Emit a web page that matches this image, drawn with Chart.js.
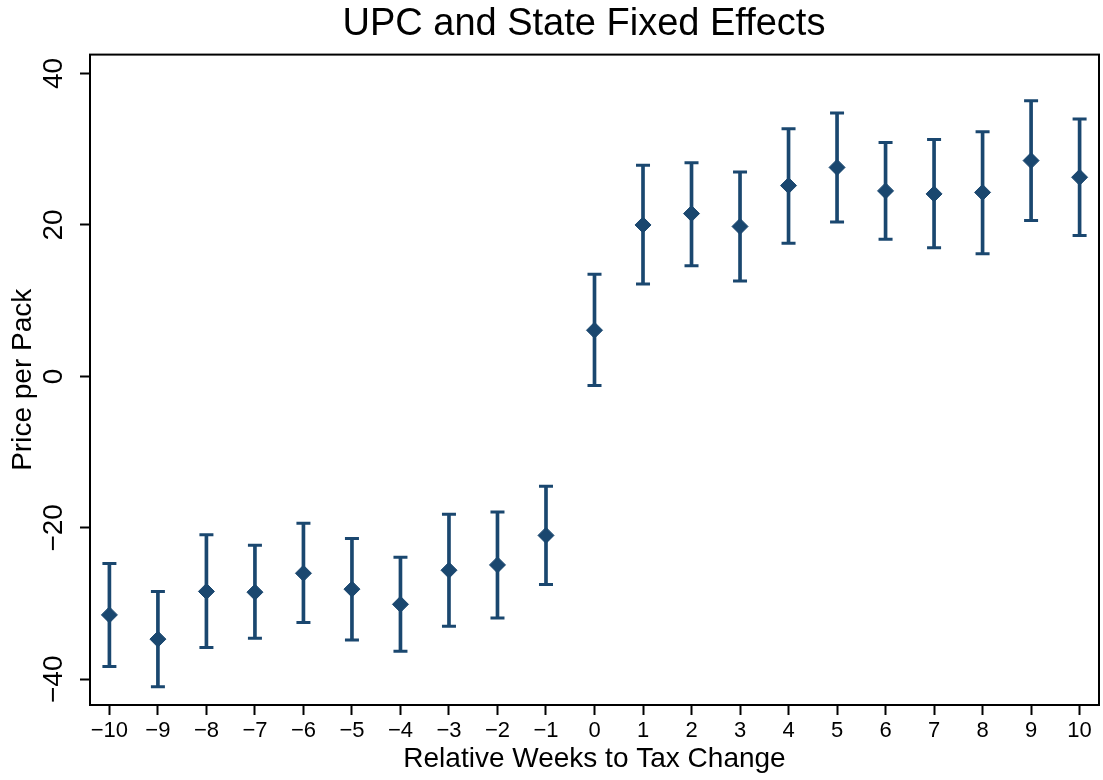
<!DOCTYPE html>
<html>
<head>
<meta charset="utf-8">
<title>UPC and State Fixed Effects</title>
<script src="https://cdn.jsdelivr.net/npm/chart.js@4.4.1/dist/chart.umd.min.js"></script>
<style>
    html, body { margin: 0; padding: 0; background: #ffffff; }
    #wrap { width: 1103px; height: 780px; }
</style>
</head>
<body>
<div id="wrap">
    <canvas id="eventChart" width="1103" height="780"></canvas>
</div>

<script>
// weeks relative to the tax change
const weeks = [-10, -9, -8, -7, -6, -5, -4, -3, -2, -1, 0, 1, 2, 3, 4, 5, 6, 7, 8, 9, 10];

// point estimates (price per pack)
const coef = [-31.5, -34.7, -28.4, -28.5, -26.0, -28.1, -30.1, -25.6, -24.9, -21.0,
              6.1, 20.0, 21.5, 19.8, 25.2, 27.6, 24.5, 24.1, 24.3, 28.5, 26.3];

// confidence interval bounds
const lower = [-38.3, -41.0, -35.8, -34.6, -32.5, -34.8, -36.3, -33.0, -31.9, -27.5,
               -1.2, 12.2, 14.6, 12.6, 17.6, 20.4, 18.1, 17.0, 16.2, 20.6, 18.6];
const upper = [-24.7, -28.4, -20.9, -22.3, -19.4, -21.4, -23.9, -18.2, -17.9, -14.5,
               13.5, 27.9, 28.2, 27.0, 32.7, 34.8, 30.9, 31.3, 32.3, 36.4, 34.0];

const yTicks = [-40, -20, 0, 20, 40];

const navy = "#1a476f";
const fontFamily = "'Liberation Sans', Arial, Helvetica, sans-serif";

// Stata style minus sign
function minus(v) {
    return String(v).replace("-", "\u2212");
}

// box around the plot region
const frame = {
    id: "frame",
    afterDraw(chart) {
        const a = chart.chartArea;
        const ctx = chart.ctx;
        ctx.save();
        ctx.strokeStyle = "#000000";
        ctx.lineWidth = 2;
        ctx.strokeRect(a.left, a.top, a.right - a.left, a.bottom - a.top);
        ctx.restore();
    }
};

const ctx = document.getElementById("eventChart").getContext("2d");

new Chart(ctx, {
    type: "scatter",
    data: {
        datasets: [
            {
                // diamonds
                type: "scatter",
                data: weeks.map((w, i) => ({ x: w, y: coef[i] })),
                pointStyle: "rectRot",
                pointRadius: 8,
                backgroundColor: navy,
                borderColor: navy,
                borderWidth: 1
            },
            {
                // caps at both ends
                type: "scatter",
                data: weeks.map((w, i) => ({ x: w, y: lower[i] }))
                    .concat(weeks.map((w, i) => ({ x: w, y: upper[i] }))),
                pointStyle: "line",
                pointRadius: 7,
                borderColor: navy,
                borderWidth: 3
            },
            {
                // vertical spikes
                type: "bar",
                data: weeks.map((w, i) => ({ x: w, y: [lower[i], upper[i]] })),
                backgroundColor: navy,
                borderWidth: 0,
                barThickness: 3
            }
        ]
    },
    options: {
        responsive: false,
        animation: false,
        devicePixelRatio: 1,
        events: [],
        layout: {
            // no extra room for point overflow, the frame goes near the edge
            autoPadding: false,
            padding: { left: 0, right: 4, top: 0, bottom: 0 }
        },
        plugins: {
            legend: { display: false },
            tooltip: { enabled: false },
            title: {
                display: true,
                // trailing spaces nudge the title a little left of the plot centre
                text: "UPC and State Fixed Effects\u00a0\u00a0",
                color: "#000000",
                fullSize: false,
                font: { family: fontFamily, size: 38, weight: "normal" },
                padding: { top: 2, bottom: 7 }
            }
        },
        scales: {
            x: {
                type: "linear",
                min: -10.4,
                max: 10.4,
                offset: false,
                border: { display: false },
                grid: {
                    offset: false,
                    drawOnChartArea: false,
                    drawTicks: true,
                    tickLength: 10,
                    tickWidth: 2,
                    tickColor: "#000000"
                },
                ticks: {
                    stepSize: 1,
                    includeBounds: false,
                    autoSkip: false,
                    maxRotation: 0,
                    color: "#000000",
                    padding: 3,
                    font: { family: fontFamily, size: 22 },
                    callback: (v) => minus(v)
                },
                title: {
                    display: true,
                    text: "Relative Weeks to Tax Change",
                    color: "#000000",
                    font: { family: fontFamily, size: 28 },
                    padding: { top: 0, bottom: 4 }
                },
                afterFit(scale) {
                    scale.height = 75;
                    scale.paddingLeft = 0;
                    scale.paddingRight = 0;
                }
            },
            y: {
                type: "linear",
                min: -43.4,
                max: 42.5,
                border: { display: false },
                grid: {
                    drawOnChartArea: false,
                    drawTicks: true,
                    tickLength: 10,
                    tickWidth: 2,
                    tickColor: "#000000"
                },
                afterBuildTicks(scale) {
                    scale.ticks = yTicks.map(v => ({ value: v }));
                },
                ticks: {
                    minRotation: 90,
                    maxRotation: 90,
                    crossAlign: "center",
                    color: "#000000",
                    padding: 2,
                    font: { family: fontFamily, size: 28 },
                    callback: (v) => minus(v)
                },
                title: {
                    display: true,
                    text: "Price per Pack",
                    color: "#000000",
                    font: { family: fontFamily, size: 28 },
                    padding: { top: 6, bottom: 0 }
                },
                afterFit(scale) {
                    scale.width = 90;
                }
            }
        }
    },
    plugins: [frame]
});
</script>
</body>
</html>
